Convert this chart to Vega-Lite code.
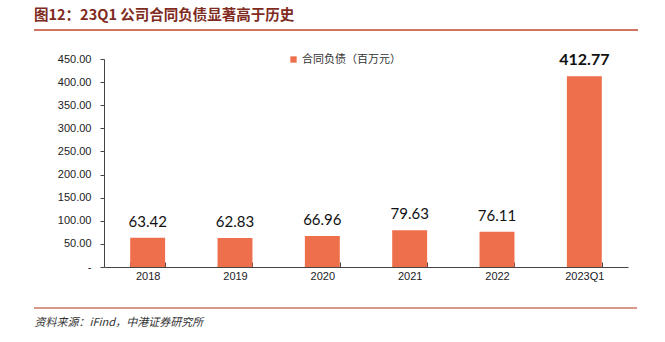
{
  "$schema": "https://vega.github.io/schema/vega-lite/v6.json",
  "autosize": {"type": "none"},
  "width": 524,
  "height": 208,
  "padding": {"left": 104, "top": 59, "right": 37, "bottom": 75},
  "background": "white",
  "config": {"view": {"stroke": null}},
  "title": {
    "text": "图12：23Q1 公司合同负债显著高于历史",
    "anchor": "start",
    "frame": "group",
    "dx": -70,
    "offset": 6,
    "font": "Noto Sans CJK SC",
    "fontSize": 14.5,
    "fontWeight": "bold",
    "color": "#7f2b22"
  },
  "data": {
    "values": [
      {"period": "2018", "value": 63.42, "series": "合同负债（百万元）"},
      {"period": "2019", "value": 62.83, "series": "合同负债（百万元）"},
      {"period": "2020", "value": 66.96, "series": "合同负债（百万元）"},
      {"period": "2021", "value": 79.63, "series": "合同负债（百万元）"},
      {"period": "2022", "value": 76.11, "series": "合同负债（百万元）"},
      {"period": "2023Q1", "value": 412.77, "series": "合同负债（百万元）"}
    ]
  },
  "encoding": {
    "x": {
      "field": "period", "type": "nominal", "sort": null,
      "scale": {"paddingInner": 0.6, "paddingOuter": 0.3},
      "axis": {
        "title": "资料来源：iFind，中港证券研究所",
        "titleFont": "Noto Sans CJK SC",
        "titleFontSize": 11,
        "titleFontStyle": "italic",
        "titleFontWeight": "normal",
        "titleColor": "#333333",
        "titleAnchor": "start",
        "titleAlign": "left",
        "titleBaseline": "middle",
        "titleX": -70,
        "titleY": 55,
        "labelAngle": 0,
        "labelFont": "Liberation Sans",
        "labelFontSize": 11,
        "labelColor": "#222222",
        "labelPadding": 8,
        "domainColor": "#444444",
        "tickColor": "#444444",
        "tickBand": "extent",
        "tickSize": -5,
        "ticks": true
      }
    },
    "y": {
      "field": "value", "type": "quantitative",
      "scale": {"domain": [0, 450], "nice": false},
      "axis": {
        "title": null,
        "values": [0, 50, 100, 150, 200, 250, 300, 350, 400, 450],
        "labelOverlap": false,
        "labelExpr": "datum.value == 0 ? '-' : format(datum.value, '.2f')",
        "labelFont": "Liberation Sans",
        "labelFontSize": 11,
        "labelColor": "#222222",
        "labelPadding": 9,
        "tickSize": 4,
        "grid": false,
        "domainColor": "#444444",
        "tickColor": "#444444"
      }
    }
  },
  "layer": [
    {
      "mark": {"type": "bar", "color": "#EE6F4B"},
      "encoding": {
        "fill": {
          "field": "series", "type": "nominal",
          "scale": {"range": ["#EE6F4B"]},
          "legend": {
            "title": null,
            "orient": "none",
            "legendX": 184,
            "legendY": -5,
            "symbolType": "square",
            "symbolSize": 40,
            "labelFont": "Noto Sans CJK SC",
            "labelFontSize": 11,
            "labelColor": "#333333",
            "labelOffset": 3
          }
        }
      }
    },
    {
      "transform": [{"filter": "datum.period != '2023Q1'"}],
      "mark": {"type": "text", "dy": -16, "baseline": "middle", "font": "Lato", "fontSize": 15, "color": "#111111"},
      "encoding": {
        "text": {"field": "value", "type": "quantitative", "format": ".2f"}
      }
    },
    {
      "transform": [{"filter": "datum.period == '2023Q1'"}],
      "mark": {"type": "text", "dy": -16, "baseline": "middle", "font": "Lato", "fontSize": 16, "fontWeight": "bold", "color": "#111111"},
      "encoding": {
        "text": {"field": "value", "type": "quantitative", "format": ".2f"}
      }
    },
    {
      "data": {"values": [{"line": "top"}]},
      "mark": {"type": "rule", "color": "#C0462A", "strokeWidth": 1.5},
      "encoding": {"x": {"value": -70}, "x2": {"value": 534}, "y": {"value": -29}}
    },
    {
      "data": {"values": [{"line": "bottom"}]},
      "mark": {"type": "rule", "color": "#D9998A", "strokeWidth": 2},
      "encoding": {"x": {"value": -70}, "x2": {"value": 533}, "y": {"value": 249}}
    }
  ]
}
